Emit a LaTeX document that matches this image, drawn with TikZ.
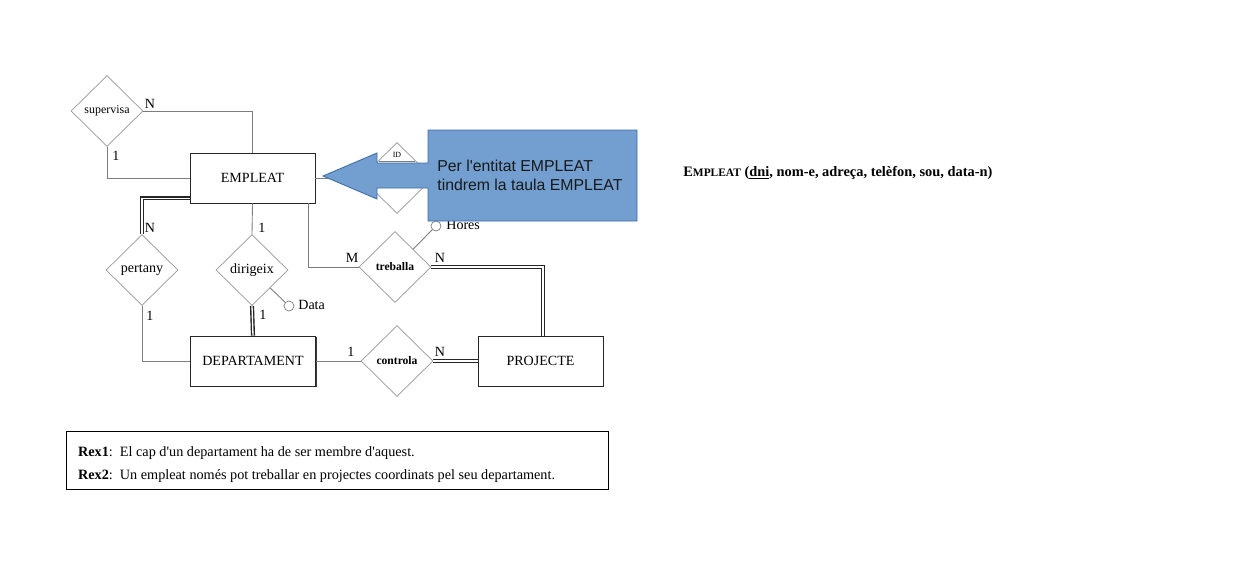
\documentclass[tikz,border=0pt]{standalone}
\usepackage{fontspec}
\setmainfont{Liberation Serif}
\newfontfamily\calloutfont{Liberation Sans}
\usetikzlibrary{shapes.geometric,shadows}
\definecolor{calloutblue}{RGB}{114,159,207}
\definecolor{calloutborder}{RGB}{62,110,168}
\definecolor{linegray}{RGB}{125,125,125}

\begin{document}
\begin{tikzpicture}[x=0.02cm, y=-0.02cm,
    entitat/.style={draw=black!85, rectangle, fill=white, minimum width=2.5cm, minimum height=1cm, font=\fontsize{8}{9}\selectfont, drop shadow={shadow xshift=0.7pt, shadow yshift=-0.7pt, opacity=0.9, fill=black!85}},
    relacio/.style={draw=linegray!80, diamond, fill=white, inner sep=0pt, minimum width=1.44cm, minimum height=1.42cm, font=\fontsize{8}{9}\selectfont},
    atribut/.style={draw=linegray, circle, fill=white, inner sep=0pt, minimum size=0.2cm},
    card/.style={inner sep=0pt, font=\fontsize{8}{9}\selectfont},
    linia/.style={draw=linegray, line width=0.5pt},
    doble/.style={draw=black!85, double=white, double distance=0.75pt, line width=0.8pt}]
    \useasboundingbox (0,0) rectangle (1256,582);

    % Entitats
    \node[entitat] (empleat) at (252.5,178) {EMPLEAT};
    \node[entitat] (departament) at (253,361) {DEPARTAMENT};
    \node[entitat] (projecte) at (540.5,361) {PROJECTE};

    % Relacions
    \node[relacio, font=\fontsize{6.8}{8}\selectfont] (supervisa) at (107,111) {supervisa};
    \node[relacio] (pertany) at (142,270) {pertany};
    \node[relacio] (dirigeix) at (252,270) {dirigeix};
    \node[relacio, font=\fontsize{6.6}{8}\selectfont\bfseries] (treballa) at (395,267) {treballa};
    \node[relacio, font=\fontsize{6.6}{8}\selectfont\bfseries] (controla) at (397,361) {controla};
    \node[relacio] (ident) at (397,178) {};
    \node[inner sep=0pt, font=\fontsize{4.5}{5}\selectfont] (identtext) at (397,155) {ID};
    \draw[linia] ([xshift=-0.36cm, yshift=-0.38cm]ident.north) -- ([xshift=0.36cm, yshift=-0.38cm]ident.north);

    % Atributs
    \node[atribut] (data) at (289,306) {};
    \node[anchor=west, inner sep=0pt, font=\fontsize{8}{9}\selectfont] (datatext) at (298,305) {Data};
    \node[atribut] (hores) at (436,226) {};
    \node[anchor=west, inner sep=0pt, font=\fontsize{8}{9}\selectfont] (horestext) at (446,225) {Hores};

    % Cardinalitats
    \node[card] (supn) at (150,104) {N};
    \node[card] (supu) at (116,156) {1};
    \node[card] (pern) at (150,228) {N};
    \node[card] (peru) at (150,316) {1};
    \node[card] (diru) at (262,228) {1};
    \node[card] (dirdu) at (263,315) {1};
    \node[card] (trem) at (352,258) {M};
    \node[card] (tren) at (440,258) {N};
    \node[card] (conu) at (351,352) {1};
    \node[card] (conn) at (440,352) {N};

    % Connexions
    \draw[linia] (supervisa.east) -| (empleat.north);
    \draw[linia] (supervisa.south) |- (empleat.west);
    \draw[doble] ([yshift=0.1cm]empleat.south west) -| (pertany.north);
    \draw[linia] (pertany.south) |- (departament.west);
    \draw[linia] (empleat.south) -- (dirigeix.north);
    \draw[doble] (dirigeix.south) -- (departament.north);
    \draw[linia] (dirigeix.south east) -- (data);
    \draw[linia] ([xshift=-0.14cm]empleat.south east) |- (treballa.west);
    \draw[doble] (treballa.east) -| ([xshift=0.05cm]projecte.north);
    \draw[linia] (treballa.north east) -- (hores);
    \draw[linia] (departament.east) -- (controla.west);
    \draw[doble] (controla.east) -- (projecte.west);
    \draw[linia] (empleat.east) -- (ident.west);

    % Fletxa i nota
    \draw[fill=calloutblue, draw=calloutborder, line width=0.5pt] (637,130) -- (428,130) -- (428,163) -- (377,163) -- (377,153) -- (323,176) -- (377,199) -- (377,188) -- (428,188) -- (428,221) -- (637,221) -- cycle;
    \node[anchor=west, align=left, inner sep=0pt, text=black!90, font=\calloutfont\fontsize{9}{10.8}\selectfont] (nota) at (437,175) {Per l'entitat EMPLEAT\\tindrem la taula EMPLEAT};

    % Restriccions
    \node[draw=black, rectangle, minimum width=10.84cm, minimum height=1.16cm] (rex) at (337,460) {};
    \node[anchor=west, align=left, inner sep=0pt, font=\fontsize{8.1}{13}\selectfont] (rextext) at ([xshift=0.24cm, yshift=-0.09cm]rex.west) {\textbf{Rex1}:\ \ El cap d\textquotesingle un departament ha de ser membre d\textquotesingle aquest.\\\textbf{Rex2}:\ \ Un empleat només pot treballar en projectes coordinats pel seu departament.};

    % Esquema relacional
    \node[anchor=west, inner sep=0pt, font=\fontsize{8.2}{9}\selectfont\bfseries] (esquema) at (683,173) {E{\fontsize{6.5}{7}\selectfont MPLEAT} (\underline{dni}, nom-e, adreça, telèfon, sou, data-n)};
\end{tikzpicture}
\end{document}
